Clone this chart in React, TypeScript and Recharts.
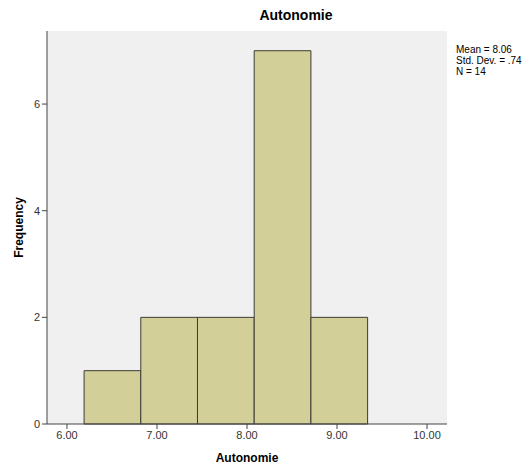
import { ComposedChart, XAxis, YAxis, ReferenceArea, Label } from 'recharts'

const binStarts = [6.19, 6.82, 7.45, 8.08, 8.71]
const binEnds = [6.82, 7.45, 8.08, 8.71, 9.34]
const counts = [1, 2, 2, 7, 2]
const xTicks = [6, 7, 8, 9, 10]
const yTicks = [0, 2, 4, 6]
const stats = ['Mean = 8.06', 'Std. Dev. = .74', 'N = 14']

const font = '"Liberation Sans", Arial, sans-serif'
const tick = { fontSize: 11, fill: '#333', fontFamily: font }
const frame = '#444'

export default function App() {
  const data = binStarts.map((s, i) => ({ x: (s + binEnds[i]) / 2, count: counts[i] }))
  return (
    <div style={{ position: 'absolute', left: 0, top: 0, width: 527, height: 466, background: '#fff', fontFamily: font }}>
      <div style={{ position: 'absolute', left: 296, top: 7, transform: 'translateX(-50%)', fontSize: 14, fontWeight: 'bold', color: '#000' }}>
        Autonomie
      </div>
      <div style={{ position: 'absolute', left: 456, top: 44, fontSize: 10, lineHeight: '11px', color: '#000' }}>
        {stats.map((s) => (
          <div key={s}>{s}</div>
        ))}
      </div>
      <ComposedChart width={527} height={466} data={data} margin={{ top: 31, right: 80, left: 0, bottom: 0 }}>
        <XAxis
          xAxisId="b"
          dataKey="x"
          type="number"
          domain={[5.778, 10.222]}
          ticks={xTicks}
          allowDataOverflow
          tickFormatter={(v: number) => v.toFixed(2)}
          tick={tick}
          tickSize={5}
          stroke={frame}
          height={42}
        >
          <Label value="Autonomie" position="insideBottom" offset={4} style={{ fontSize: 12, fontWeight: 'bold', fill: '#000', fontFamily: font }} />
        </XAxis>
        <XAxis xAxisId="t" orientation="top" type="number" domain={[5.778, 10.222]} tick={false} tickLine={false} stroke={frame} height={0} />
        <YAxis
          yAxisId="l"
          type="number"
          domain={[0, 7.37]}
          ticks={yTicks}
          allowDataOverflow
          tick={tick}
          tickSize={5}
          stroke={frame}
          width={47}
        >
          <Label value="Frequency" angle={-90} position="insideLeft" offset={19} style={{ fontSize: 12, fontWeight: 'bold', fill: '#000', fontFamily: font, textAnchor: 'middle' }} />
        </YAxis>
        <YAxis yAxisId="r" orientation="right" type="number" domain={[0, 7.37]} tick={false} tickLine={false} stroke={frame} width={0} />
        <ReferenceArea xAxisId="b" yAxisId="l" x1={5.778} x2={10.222} y1={0} y2={7.37} fill="#f0f0f0" fillOpacity={1} stroke="none" ifOverflow="visible" />
        {binStarts.map((s, i) => (
          <ReferenceArea
            key={i}
            xAxisId="b"
            yAxisId="l"
            x1={s}
            x2={binEnds[i]}
            y1={0}
            y2={counts[i]}
            fill="#d3cf98"
            fillOpacity={1}
            stroke="#3c3c34"
            strokeWidth={1}
            strokeOpacity={1}
          />
        ))}
      </ComposedChart>
    </div>
  )
}
